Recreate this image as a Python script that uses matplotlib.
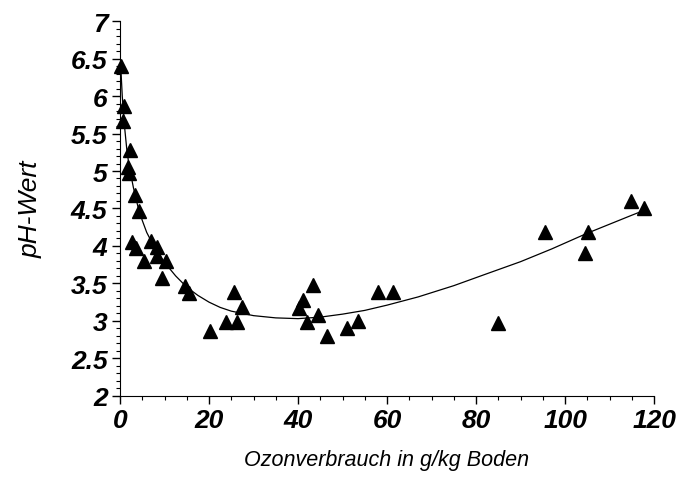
import matplotlib.pyplot as plt
from matplotlib.ticker import MultipleLocator

# measured points: ozone consumption (g/kg soil) vs pH
ozon = [0.2, 0.9, 0.7, 2.2, 1.8, 2.1, 3.4, 4.3, 2.6, 3.5, 6.9, 8.4, 5.3, 8.3,
        10.3, 9.5, 14.6, 15.4, 20.2, 23.9, 26.2, 25.7, 27.4, 40.2, 41.1, 43.4,
        44.5, 42.0, 46.5, 51.0, 53.5, 58.0, 61.4, 85.0, 95.5, 105.2, 104.5,
        114.8, 117.8]
ph = [6.4, 5.87, 5.67, 5.28, 5.05, 4.98, 4.68, 4.47, 4.05, 3.97, 4.07, 3.98,
      3.8, 3.87, 3.8, 3.57, 3.46, 3.37, 2.87, 2.98, 2.98, 3.38, 3.18, 3.17,
      3.28, 3.48, 3.08, 2.98, 2.8, 2.9, 3.0, 3.38, 3.38, 2.97, 4.18, 4.18,
      3.9, 4.6, 4.5]

# trend curve
kurve_x = [0.2, 0.5, 1, 1.5, 2, 3, 4, 5, 6, 8, 10, 12.5, 15, 17.5, 20, 22.5,
           25, 30, 35, 40, 45, 50, 55, 60, 67, 75, 82, 90, 97, 105, 110, 115, 118]
kurve_y = [6.35, 6.0, 5.6, 5.3, 5.08, 4.78, 4.53, 4.34, 4.18, 3.95, 3.78, 3.6,
           3.45, 3.34, 3.25, 3.18, 3.13, 3.07, 3.04, 3.03, 3.05, 3.09, 3.14,
           3.21, 3.32, 3.47, 3.62, 3.79, 3.96, 4.17, 4.29, 4.41, 4.48]

x_ticks = [0, 20, 40, 60, 80, 100, 120]
y_ticks = [2, 2.5, 3, 3.5, 4, 4.5, 5, 5.5, 6, 6.5, 7]

fig = plt.figure(figsize=(6.82, 4.81), dpi=100)
ax = fig.add_axes([0.176, 0.175, 0.783, 0.779])

ax.plot(kurve_x, kurve_y, color='black', lw=0.9)
ax.plot(ozon, ph, linestyle='none', marker='^', ms=10.5, color='black',
        clip_on=False)

for s in ['top', 'right']:
    ax.spines[s].set_visible(False)

tick_font = dict(family='Liberation Sans', style='italic', weight='bold', size=19)
ax.set_xticks(x_ticks)
ax.set_xticklabels([f'{v:g}' for v in x_ticks], **tick_font)
ax.set_yticks(y_ticks)
ax.set_yticklabels([f'{v:g}' for v in y_ticks], **tick_font)
ax.xaxis.set_minor_locator(MultipleLocator(5))
ax.yaxis.set_minor_locator(MultipleLocator(0.1))
ax.tick_params(which='major', length=6, width=1, direction='out', pad=3)
ax.tick_params(which='minor', length=3, width=0.8, direction='out')
ax.set_xlim(0, 120)
ax.set_ylim(2, 7)

ax.set_xlabel('Ozonverbrauch in g/kg Boden', labelpad=12,
              family='Liberation Sans', style='italic', size=15.5)
ax.set_ylabel('pH-Wert', labelpad=20,
              family='Liberation Sans', style='italic', size=19)

fig.savefig('out.png', dpi=100)
